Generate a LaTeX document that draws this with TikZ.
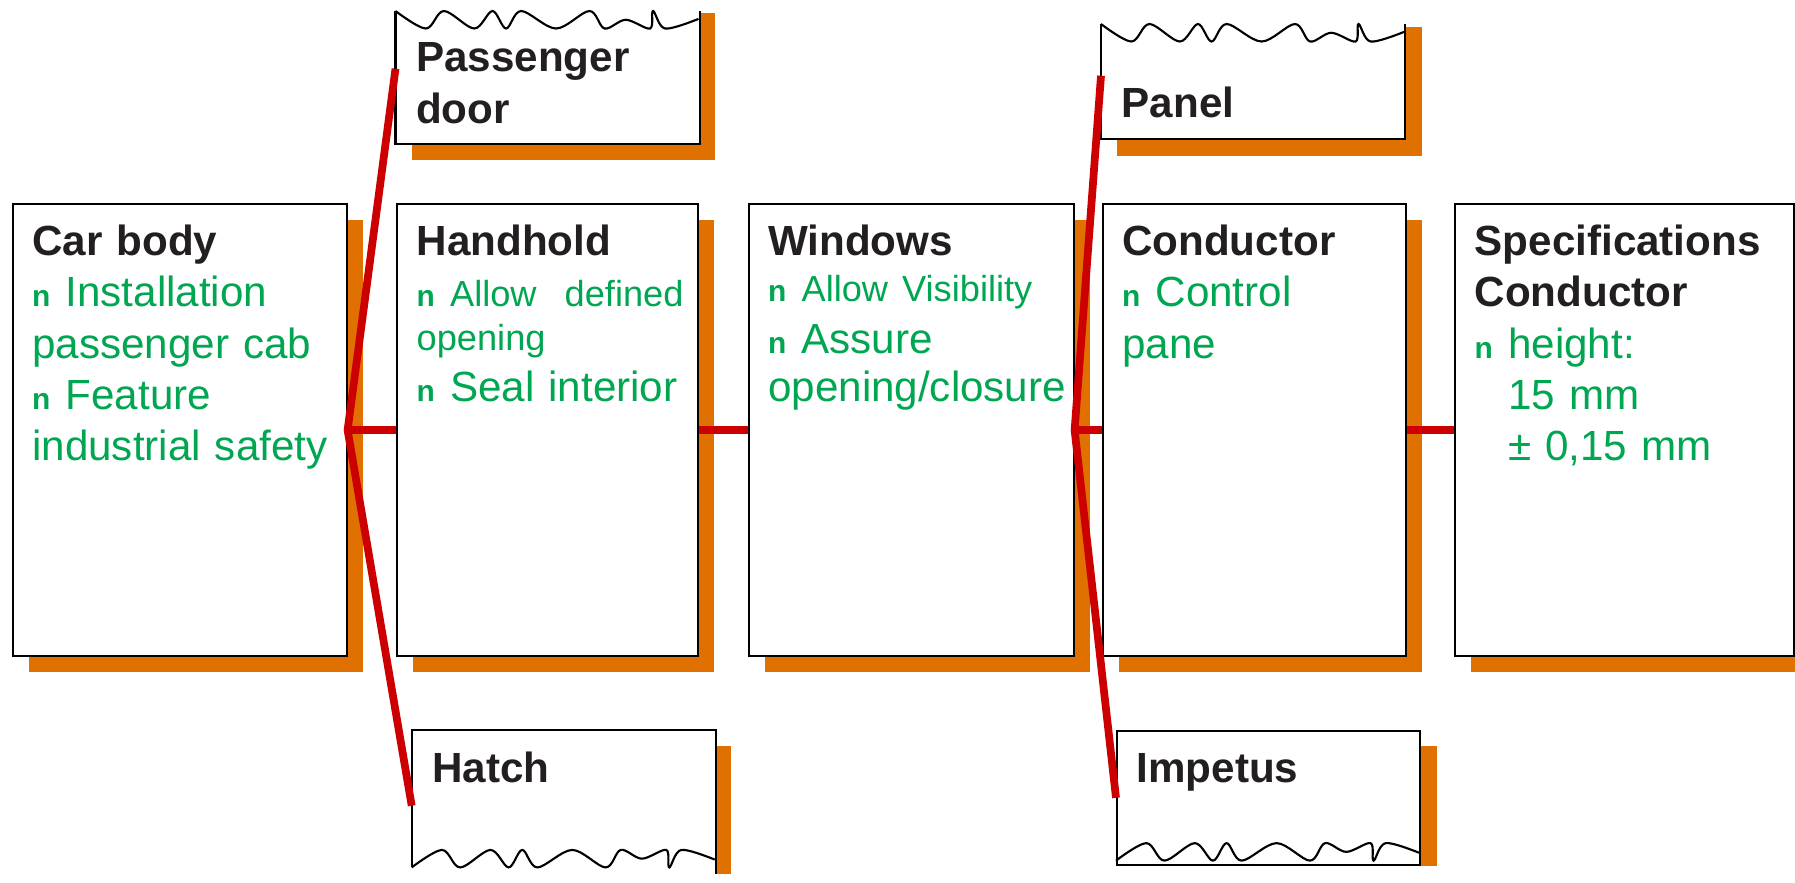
\documentclass[tikz,border=0pt]{standalone}
\usepackage{fontspec}
\setmainfont{Liberation Sans}
\usetikzlibrary{shadows, backgrounds}
\definecolor{shadeorange}{RGB}{224,112,0}
\definecolor{linkred}{RGB}{204,0,0}
\definecolor{itemgreen}{RGB}{0,166,81}
\definecolor{titleblack}{RGB}{35,31,32}
\tikzstyle{box}=[draw=black, line width=0.6pt, fill=white, anchor=north west, inner sep=0pt, minimum height=4.52cm, drop shadow={shadow xshift=0.16cm, shadow yshift=-0.16cm, fill=shadeorange, opacity=1}]
\tikzstyle{torn box}=[fill=white, anchor=north west, inner sep=0pt, minimum width=3.03cm]
\tikzstyle{tear}=[draw=black, line width=0.6pt]
\tikzstyle{backdrop}=[fill=shadeorange]
\tikzstyle{link}=[draw=linkred, line width=2.2pt]
\tikzstyle{txt}=[anchor=base west, inner sep=0pt, align=left, text width=3.2cm, text=itemgreen, font=\fontsize{12}{14.6}\selectfont]
\newcommand{\sqbul}{{\fontsize{8.5}{10}\selectfont\bfseries n}\hspace{0.36em}}
\newcommand{\smalltxt}{\fontsize{10.3}{14.6}\selectfont}
\newcommand{\ttl}[1]{\textcolor{titleblack}{\bfseries #1}}
\newcommand{\tornedge}[2]{%
	\begin{scope}[shift={(#1)}, x=3.03cm, y=#2]
		\draw[tear] plot[smooth, tension=0.55] coordinates {(0,0) (0.10,-1) (0.16,0) (0.26,-1) (0.32,0) (0.365,-1) (0.415,0) (0.53,-1) (0.64,0) (0.69,-1) (0.76,-0.5) (0.84,-1) (0.85,0) (0.89,-1) (1,-0.45)};
	\end{scope}}

\begin{document}
\begin{tikzpicture}
		\useasboundingbox (0,0) rectangle (17.95,-8.82);
		% main row
		\node[box, minimum width=3.34cm] (cb) at (0.115,-2.03) {};
		\node[box, minimum width=3.01cm] (hh) at (3.96,-2.03) {};
		\node[box, minimum width=3.25cm] (wi) at (7.475,-2.03) {};
		\node[box, minimum width=3.03cm] (co) at (11.015,-2.03) {};
		\node[box, minimum width=3.39cm] (sp) at (14.54,-2.03) {};
		% torn boxes
		\node[torn box, minimum height=1.32cm] (pd) at (3.955,-0.11) {};
		\node[torn box, minimum height=1.14cm] (pn) at (11.01,-0.24) {};
		\node[torn box, minimum height=1.36cm] (ha) at (4.117,-7.30) {};
		\node[torn box, tear, minimum height=1.335cm] (im) at (11.16,-7.30) {};
		\begin{scope}[on background layer]
			\fill[backdrop] ([shift={(0.16,-0.02)}]pd.north west) rectangle ([shift={(0.155,-0.16)}]pd.south east);
			\fill[backdrop] ([shift={(0.16,-0.03)}]pn.north west) rectangle ([shift={(0.165,-0.17)}]pn.south east);
			\fill[backdrop] ([yshift=-0.16cm]ha.north east) rectangle ([shift={(0.15,-0.07)}]ha.south east);
			\fill[backdrop] ([yshift=-0.16cm]im.north east) rectangle ([xshift=0.16cm]im.south east);
		\end{scope}
		\draw[tear] (pd.north west) -- (pd.south west) -- (pd.south east) -- (pd.north east);
		\draw[tear] (pn.north west) -- (pn.south west) -- (pn.south east) -- (pn.north east);
		\draw[tear] (ha.south west) -- (ha.north west) -- (ha.north east) -- ([yshift=-0.07cm]ha.south east);
		\tornedge{pd.north west}{0.175cm}
		\tornedge{pn.north west}{0.175cm}
		\tornedge{ha.south west}{-0.175cm}
		\tornedge{[yshift=0.05cm]im.south west}{-0.175cm}
		% texts
		\node[txt] (cb-t) at ([shift={(0.2,-0.524)}]cb.north west) {\ttl{Car body}\\ \sqbul Installation\\ passenger cab\\ \sqbul Feature\\ industrial safety};
		\node[txt] (hh-t) at ([shift={(0.2,-0.524)}]hh.north west) {\ttl{Handhold}\\ \sqbul{\smalltxt Allow\ \ defined}\\[-0.08cm] {\smalltxt opening}\\ \sqbul Seal interior};
		\node[txt] (wi-t) at ([shift={(0.2,-0.524)}]wi.north west) {\ttl{Windows}\\[-0.05cm] \sqbul{\smalltxt Allow Visibility}\\ \sqbul Assure\\[-0.03cm] opening/closure};
		\node[txt] (co-t) at ([shift={(0.2,-0.524)}]co.north west) {\ttl{Conductor}\\ \sqbul Control\\ pane};
		\node[txt] (sp-t) at ([shift={(0.2,-0.524)}]sp.north west) {\ttl{Specifications}\\ \ttl{Conductor}\\ \sqbul height:\\ \phantom{\sqbul}15 mm\\ \phantom{\sqbul}± 0,15 mm};
		\node[txt] (pd-t) at ([shift={(0.2,-0.607)}]pd.north west) {\ttl{Passenger}\\ \ttl{door}};
		\node[txt] (pn-t) at ([shift={(0.2,-0.93)}]pn.north west) {\ttl{Panel}};
		\node[txt] (ha-t) at ([shift={(0.2,-0.52)}]ha.north west) {\ttl{Hatch}};
		\node[txt] (im-t) at ([shift={(0.2,-0.52)}]im.north west) {\ttl{Impetus}};
		% connectors
		\draw[link] ([yshift=0.09cm]pd.west) -- (cb.east) -- ([yshift=-0.07cm]ha.west);
		\draw[link] (cb.east) -- (hh.west);
		\draw[link] (hh.east) -- (wi.west);
		\draw[link] ([yshift=0.06cm]pn.west) -- (wi.east) -- (im.west);
		\draw[link] (wi.east) -- (co.west);
		\draw[link] (co.east) -- (sp.west);
\end{tikzpicture}
\end{document}
